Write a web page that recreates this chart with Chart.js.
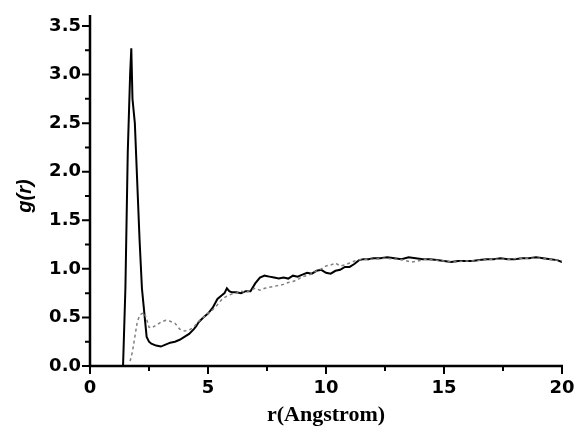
<!DOCTYPE html>
<html>
<head>
<meta charset="utf-8">
<script src="https://cdn.jsdelivr.net/npm/chart.js@4"></script>
<style>
  html, body { margin: 0; padding: 0; background: #fff; }
  #wrap { width: 574px; height: 426px; }
</style>
</head>
<body>
<div id="wrap"><canvas id="gr-chart"></canvas></div>
<script>
// solid curve: r (Angstrom) and g(r)
var rSolid = [1.40, 1.50, 1.60, 1.70, 1.75, 1.80, 1.90, 2.00, 2.10, 2.20, 2.30, 2.40, 2.50, 2.60, 2.80,
  3.00, 3.20, 3.40, 3.60, 3.80, 4.00, 4.20, 4.40, 4.50, 4.60, 4.80, 5.00, 5.20, 5.40, 5.60, 5.70,
  5.80, 5.90, 6.00, 6.20, 6.40, 6.60, 6.80, 7.00, 7.20, 7.40, 7.60, 7.80, 8.00, 8.20, 8.40, 8.60,
  8.80, 9.00, 9.20, 9.40, 9.60, 9.80, 10.0, 10.2, 10.4, 10.6, 10.8, 11.0, 11.2, 11.4, 11.6, 11.8,
  12.0, 12.3, 12.6, 12.9, 13.2, 13.5, 13.8, 14.1, 14.4, 14.7, 15.0, 15.3, 15.6, 15.9, 16.2, 16.5,
  16.8, 17.1, 17.4, 17.7, 18.0, 18.3, 18.6, 18.9, 19.2, 19.5, 19.8, 20.0];
var gSolid = [0.00, 0.80, 2.20, 3.00, 3.27, 2.75, 2.50, 1.90, 1.30, 0.80, 0.55, 0.30, 0.25, 0.23, 0.21,
  0.20, 0.22, 0.24, 0.25, 0.27, 0.30, 0.33, 0.38, 0.41, 0.45, 0.50, 0.54, 0.60, 0.69, 0.73, 0.75,
  0.80, 0.77, 0.76, 0.76, 0.75, 0.77, 0.77, 0.85, 0.91, 0.93, 0.92, 0.91, 0.90, 0.91, 0.90, 0.93,
  0.92, 0.94, 0.96, 0.95, 0.98, 0.99, 0.96, 0.95, 0.98, 0.99, 1.02, 1.02, 1.05, 1.09, 1.10, 1.10,
  1.11, 1.11, 1.12, 1.11, 1.10, 1.12, 1.11, 1.10, 1.10, 1.09, 1.08, 1.07, 1.08, 1.08, 1.08, 1.09,
  1.10, 1.10, 1.11, 1.10, 1.10, 1.11, 1.11, 1.12, 1.11, 1.10, 1.09, 1.07];

// dotted curve
var rDotted = [1.70, 1.80, 1.90, 2.00, 2.10, 2.20, 2.30, 2.40, 2.50, 2.60, 2.80, 3.00, 3.20, 3.40, 3.60,
  3.80, 4.00, 4.20, 4.40, 4.60, 4.80, 5.00, 5.20, 5.40, 5.60, 5.80, 6.00, 6.20, 6.40, 6.60, 6.80,
  7.00, 7.20, 7.40, 7.60, 7.80, 8.00, 8.20, 8.40, 8.60, 8.80, 9.00, 9.20, 9.40, 9.60, 9.80, 10.0,
  10.2, 10.4, 10.6, 10.8, 11.0, 11.3, 11.6, 12.0, 12.5, 13.0, 13.3, 13.6, 13.9, 14.2, 14.6, 15.0,
  15.4, 15.8, 16.2, 16.6, 17.0, 17.4, 17.8, 18.2, 18.6, 19.0, 19.4, 19.8, 20.0];
var gDotted = [0.05, 0.15, 0.30, 0.45, 0.52, 0.54, 0.55, 0.48, 0.40, 0.39, 0.42, 0.45, 0.47, 0.46, 0.44,
  0.38, 0.36, 0.37, 0.40, 0.46, 0.50, 0.54, 0.58, 0.63, 0.69, 0.72, 0.74, 0.75, 0.77, 0.76, 0.78,
  0.80, 0.78, 0.80, 0.81, 0.82, 0.83, 0.84, 0.86, 0.87, 0.89, 0.92, 0.93, 0.95, 0.98, 1.00, 1.03,
  1.04, 1.06, 1.03, 1.04, 1.06, 1.09, 1.10, 1.10, 1.11, 1.10, 1.09, 1.07, 1.08, 1.10, 1.09, 1.08,
  1.07, 1.08, 1.08, 1.09, 1.10, 1.10, 1.10, 1.11, 1.11, 1.11, 1.10, 1.09, 1.08];

var xMajor = [0, 5, 10, 15, 20];
var yMajor = [0, 0.5, 1.0, 1.5, 2.0, 2.5, 3.0, 3.5];

function toPoints(xs, ys) {
  var pts = [];
  for (var i = 0; i < xs.length; i++) {
    pts.push({ x: xs[i], y: ys[i] });
  }
  return pts;
}

// axis lines with outward major/minor ticks, Origin style
var axesPlugin = {
  id: 'axes',
  afterDraw: function (chart) {
    var ctx = chart.ctx;
    var xs = chart.scales.x, ys = chart.scales.y;
    var x0 = xs.getPixelForValue(0);
    var y0 = ys.getPixelForValue(0);
    ctx.save();
    ctx.strokeStyle = '#000';
    ctx.lineWidth = 2.5;
    ctx.beginPath();
    ctx.moveTo(x0, ys.getPixelForValue(3.5) - 11);
    ctx.lineTo(x0, y0);
    ctx.lineTo(xs.getPixelForValue(20) + 1, y0);
    ctx.stroke();
    ctx.lineWidth = 2;
    ctx.beginPath();
    for (var v = 0; v <= 20.001; v += 2.5) {
      var px = xs.getPixelForValue(v);
      var len = (Math.abs(v % 5) < 0.01) ? 8 : 5;
      ctx.moveTo(px, y0);
      ctx.lineTo(px, y0 + len);
    }
    for (var w = 0; w <= 3.501; w += 0.25) {
      var py = ys.getPixelForValue(w);
      var len2 = (Math.abs((w * 2) % 1) < 0.01) ? 8 : 5;
      ctx.moveTo(x0, py);
      ctx.lineTo(x0 - len2, py);
    }
    ctx.stroke();
    ctx.restore();
  }
};

new Chart(document.getElementById('gr-chart'), {
  type: 'scatter',
  data: {
    datasets: [
      {
        label: 'dotted',
        data: toPoints(rDotted, gDotted),
        showLine: true,
        borderColor: '#808080',
        borderWidth: 1.5,
        borderDash: [3, 3],
        pointRadius: 0,
        tension: 0
      },
      {
        label: 'solid',
        data: toPoints(rSolid, gSolid),
        showLine: true,
        borderColor: '#000',
        borderWidth: 2,
        pointRadius: 0,
        tension: 0
      }
    ]
  },
  options: {
    responsive: true,
    maintainAspectRatio: false,
    animation: false,
    layout: { padding: { top: 26, right: 0, left: 0, bottom: 0 } },
    plugins: {
      legend: { display: false },
      tooltip: { enabled: false }
    },
    scales: {
      x: {
        type: 'linear',
        min: 0,
        max: 20,
        afterBuildTicks: function (scale) {
          scale.ticks = xMajor.map(function (v) { return { value: v }; });
        },
        afterFit: function (scale) {
          scale.height = 60;
          scale.paddingLeft = 0;
          scale.paddingRight = 12;
        },
        grid: { display: false, drawTicks: false },
        border: { display: false },
        ticks: {
          color: '#000',
          padding: 12,
          maxRotation: 0,
          font: { family: 'DejaVu Sans', size: 18, weight: 'bold' }
        },
        title: {
          display: true,
          text: 'r(Angstrom)',
          color: '#000',
          padding: { top: 0, bottom: 0 },
          font: { family: 'Liberation Serif', size: 22, weight: 'bold', lineHeight: 1 }
        }
      },
      y: {
        type: 'linear',
        min: 0,
        max: 3.5,
        afterBuildTicks: function (scale) {
          scale.ticks = yMajor.map(function (v) { return { value: v }; });
        },
        afterFit: function (scale) { scale.width = 90; },
        grid: { display: false, drawTicks: false },
        border: { display: false },
        ticks: {
          color: '#000',
          padding: 9,
          callback: function (v) { return Number(v).toFixed(1); },
          font: { family: 'DejaVu Sans', size: 18, weight: 'bold' }
        },
        title: {
          display: true,
          text: 'g(r)',
          color: '#000',
          padding: { top: 15, bottom: 0 },
          font: { family: 'Liberation Sans', size: 20, weight: 'bold', style: 'italic', lineHeight: 1 }
        }
      }
    }
  },
  plugins: [axesPlugin]
});
</script>
</body>
</html>
